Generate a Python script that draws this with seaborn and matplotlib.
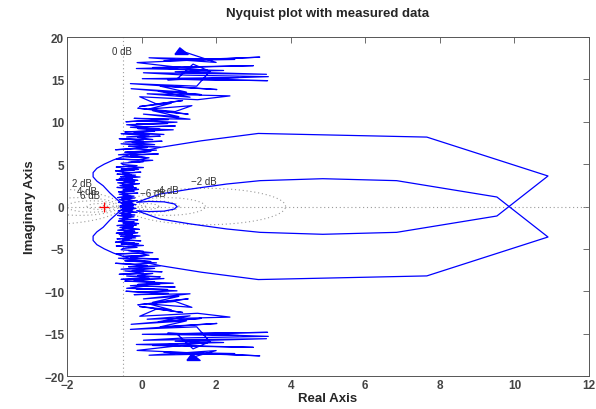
import numpy as np
import pandas as pd
import matplotlib
matplotlib.use("Agg")
import matplotlib.pyplot as plt
import seaborn as sns
from matplotlib import font_manager

# ---------------- data ----------------
# measured frequency response, upper half (Im >= 0), in four bands; lower half is its mirror
meas_re_a = [-0.45, -0.22, -0.58, -0.3, -0.52, -0.15, -0.48, -0.62, -0.25, -0.5, -0.12, -0.42, -0.6, -0.28, -0.55, -0.18,
             -0.46, -0.64, -0.2, -0.5, -0.32, -0.6, -0.1, -0.44, -0.56, -0.2, -0.62, -0.35, -0.08, -0.5, -0.26, -0.66,
             -0.14, -0.42, -0.58, -0.22, -0.52, -0.06, -0.4, -0.64, -0.18, -0.48, -0.3, -0.68, -0.1, -0.46, -0.24, -0.6,
             -0.04, -0.38, -0.56, -0.16, -0.66, -0.28, -0.5, -0.02, -0.44, -0.62, -0.2, -0.7, -0.08, -0.36, -0.55, 0.05,
             -0.42, -0.68, -0.12, -0.5]
meas_im_a = [0.0, 0.1, 0.05, 0.2, 0.3, 0.22, 0.38, 0.5, 0.42, 0.58, 0.7, 0.62, 0.8, 0.92, 0.85, 1.0,
             1.12, 1.05, 1.22, 1.35, 1.28, 1.45, 1.58, 1.5, 1.68, 1.8, 1.72, 1.9, 2.02, 1.95, 2.12, 2.25,
             2.18, 2.35, 2.48, 2.4, 2.58, 2.7, 2.62, 2.8, 2.92, 2.85, 3.02, 3.15, 3.08, 3.25, 3.38, 3.3,
             3.48, 3.6, 3.52, 3.7, 3.82, 3.75, 3.92, 4.05, 3.98, 4.15, 4.28, 4.2, 4.38, 4.5, 4.42, 4.6,
             4.72, 4.65, 4.82, 4.95]
meas_re_b = [-0.55, 0.05, -0.35, 0.3, -0.68, -0.1, 0.2, -0.5, 0.1, -0.3, 0.45, -0.62, -0.05, 0.25, -0.45, 0.4,
             -0.2, -0.7, 0.15, -0.35, 0.5, -0.15, -0.55, 0.35, -0.25, 0.55, -0.45, 0.05, -0.6, 0.3, -0.1, 0.5,
             -0.4, 0.2, -0.55, 0.6, -0.2, 0.35, -0.45, 0.85, -0.1, 0.5, -0.3, 0.9, 0.1, -0.4, 0.7, -0.15,
             0.95, 0.0, -0.42, 0.72, -0.2]
meas_im_b = [5.1, 5.3, 5.2, 5.45, 5.6, 5.5, 5.75, 5.9, 5.8, 6.05, 6.2, 6.1, 6.35, 6.5, 6.4, 6.65,
             6.8, 6.7, 6.95, 7.1, 7.0, 7.25, 7.4, 7.3, 7.55, 7.7, 7.6, 7.85, 8.0, 7.9, 8.15, 8.3,
             8.2, 8.45, 8.6, 8.5, 8.75, 8.9, 8.8, 9.05, 9.2, 9.1, 9.35, 9.5, 9.4, 9.65, 9.8, 9.7,
             9.95, 10.1, 10.0, 10.25, 10.4]
meas_re_c = [1.3, 0.05, 1.0, 0.3, 1.25, -0.1, 0.9, 1.35, 0.2, 0.8, -0.05, 1.1, 0.4, -0.05, 1.5, 2.37,
             0.15, 1.3, 0.45, 1.6, -0.28, 1.2, 0.5, 2.02, -0.3]
meas_im_c = [10.3, 10.9, 10.6, 11.3, 10.9, 11.6, 11.2, 11.9, 11.5, 12.2, 11.8, 12.5, 12.1, 12.95, 12.6, 13.05,
             13.3, 12.9, 13.6, 13.2, 13.9, 13.5, 14.2, 13.8, 14.5]
meas_re_d = [1.48, 1.83, 1.38, 0.94, 3.38, 0.02, 2.6, 0.7, 3.4, 1.2, 0.05, 3.35, 0.9, 2.2, -0.14, 3.0,
             0.3, 1.85, -0.12, 3.17, 0.6, 2.5, 0.2, 2.0]
meas_im_d = [14.2, 15.95, 16.8, 15.0, 14.85, 15.08, 15.22, 14.95, 15.32, 15.5, 15.78, 15.6, 15.9, 16.05, 16.28, 16.62,
             16.4, 16.0, 16.98, 17.62, 17.2, 17.35, 17.55, 17.0]
# arrow heads (end of upper / lower measured branch)
arrow_re = [1.07, 1.39]
arrow_im = [18.35, -17.76]

# model response, one frequency branch; the other is its complex conjugate
model_re = [-0.45, -0.52, -0.67, -0.85, -1.03, -1.2, -1.3, -1.3, -1.2, -1.0, -0.75, -0.45, 0.0, 0.49, 1.6, 3.13, 7.65, 10.9,
            9.53, 6.84, 4.86, 3.18, 2.28, 1.3, 0.49, -0.13, 0.2, 0.6, 0.88, 0.95]
model_im = [0.0, 0.3, 0.88, 1.6, 2.45, 3.0, 3.5, 4.0, 4.5, 5.0, 5.5, 5.95, 6.5, 6.97, 7.75, 8.62, 8.19, 3.6,
            -1.12, -3.05, -3.28, -3.05, -2.65, -2.05, -1.47, -0.49, -0.6, -0.55, -0.3, 0.0]

# M-circle grid (dB) and labels
mcircle_db = [2, 4, 6, 10, 20, -2, -4, -6, -10, -20]
label_txt = ["0 dB", "2 dB", "4 dB", "6 dB", "-2 dB", "-4 dB", "-6 dB"]
label_x = [-0.52, -1.6, -1.46, -1.38, 1.68, 0.66, 0.3]
label_y = [18.3, 2.75, 1.85, 1.4, 2.95, 2.0, 1.55]

xticks = [-2, 0, 2, 4, 6, 8, 10, 12]
yticks = [-20, -15, -10, -5, 0, 5, 10, 15, 20]

# ---------------- styling ----------------
sns.set_style("white")
names = {f.name for f in font_manager.fontManager.ttflist}
narrow = "Liberation Sans Narrow" if "Liberation Sans Narrow" in names else "Liberation Sans"
plt.rcParams["font.family"] = ["Liberation Sans", "DejaVu Sans"]

fig = plt.figure(figsize=(5.96, 4.10), dpi=100)
ax = fig.add_axes([67 / 596, 1 - 377 / 410, 522 / 596, 339 / 410])

grid_kw = dict(color="#9a9a9a", ls=(0, (1, 2.5)), lw=0.8, zorder=1)
t = np.linspace(0, 2 * np.pi, 400)
for db in mcircle_db:
    M = 10 ** (db / 20)
    c = -M ** 2 / (M ** 2 - 1)
    r = abs(M / (M ** 2 - 1))
    ax.plot(c + r * np.cos(t), r * np.sin(t), **grid_kw)
ax.axvline(-0.5, **grid_kw)
ax.axhline(0, **grid_kw)
for s, x, y in zip(label_txt, label_x, label_y):
    ax.text(x, y, s.replace("-", "\u2212"), ha="center", va="center", fontsize=7,
            color="#333333", family="Liberation Sans", zorder=3)

blue = "#0000ff"
# model branches
df_m = pd.DataFrame({"re": model_re, "im": model_im})
sns.lineplot(data=df_m, x="re", y="im", sort=False, estimator=None, color=blue, lw=0.9, ax=ax)
df_mc = pd.DataFrame({"re": model_re, "im": [-v for v in model_im]})
sns.lineplot(data=df_mc, x="re", y="im", sort=False, estimator=None, color=blue, lw=0.9, ax=ax)

# measured branches
meas_re = meas_re_a + meas_re_b + meas_re_c + meas_re_d
meas_im = meas_im_a + meas_im_b + meas_im_c + meas_im_d
up = pd.DataFrame({"re": meas_re + [arrow_re[0]], "im": meas_im + [arrow_im[0]]})
lo = pd.DataFrame({"re": meas_re + [arrow_re[1]], "im": [-v for v in meas_im] + [arrow_im[1]]})
sns.lineplot(data=up, x="re", y="im", sort=False, estimator=None, color=blue, lw=0.9, ax=ax)
sns.lineplot(data=lo, x="re", y="im", sort=False, estimator=None, color=blue, lw=0.9, ax=ax)

tri = [(-1.0, -0.45), (1.0, -0.45), (-0.25, 0.55), (-1.0, -0.45)]
ax.scatter(arrow_re, arrow_im, marker=tri, s=90, color=blue, edgecolor=blue, zorder=4)

# critical point
ax.plot([-1], [0], marker="+", color="red", ms=7, mew=0.9, zorder=5)

ax.set_xlim(-2, 12)
ax.set_ylim(-20, 20)
ax.set_xticks(xticks)
ax.set_yticks(yticks)
ax.set_xticklabels([str(v).replace("-", "\u2212") for v in xticks])
ax.set_yticklabels([str(v).replace("-", "\u2212") for v in yticks])
ax.tick_params(direction="in", length=4, width=0.6, colors="#555555", top=True, right=True,
               labelsize=8.5, pad=2)
for lab in ax.get_xticklabels() + ax.get_yticklabels():
    lab.set_fontweight("bold")
    lab.set_color("#444444")
for sp in ax.spines.values():
    sp.set_color("#555555")
    sp.set_linewidth(0.7)

ax.set_xlabel("Real Axis", family=narrow, fontweight="bold", fontsize=9.5, labelpad=1)
ax.set_ylabel("Imaginary Axis", family=narrow, fontweight="bold", fontsize=9.5, labelpad=6)
ax.set_title("Nyquist plot with measured data", family=narrow, fontweight="bold", fontsize=9.5, pad=15)

fig.savefig("out.png", dpi=100)
